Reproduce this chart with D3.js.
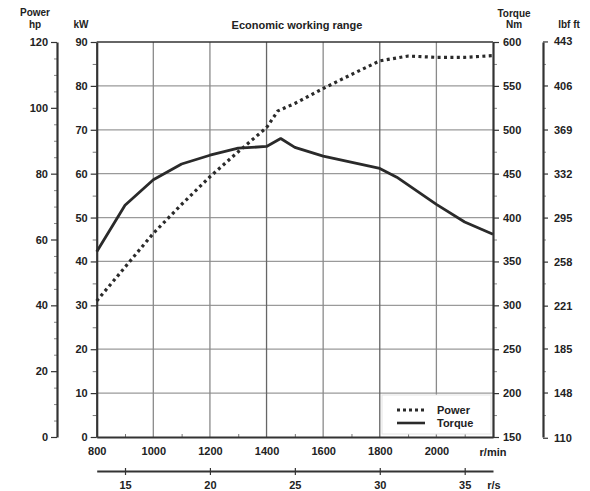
<!DOCTYPE html>
<html><head><meta charset="utf-8">
<script src="https://cdn.jsdelivr.net/npm/d3@7"></script>
<style>
body{margin:0;background:#fff;}
svg text{font-family:"Liberation Sans",Arial,sans-serif;font-weight:bold;fill:#222;}
</style></head>
<body><svg id="c" width="590" height="491"></svg>
<script>
// ---- data ----
const powerRpm = [800, 900, 1000, 1100, 1200, 1300, 1400, 1440, 1500, 1600, 1700, 1800, 1900, 2000, 2100, 2200];
const powerKw  = [31, 38.7, 46.4, 53, 59.3, 65, 70.5, 74.3, 76, 79.4, 82.6, 85.7, 86.8, 86.5, 86.5, 86.9];
const torqueRpm = [800, 900, 1000, 1100, 1200, 1300, 1400, 1450, 1500, 1600, 1800, 1860, 2000, 2100, 2200];
const torqueNm  = [361, 414, 443, 461, 471, 479, 481, 490, 480, 470, 456, 446, 415, 395, 381];
const rpmTicks = [800, 1000, 1200, 1400, 1600, 1800, 2000];
const rpsTicks = [15, 20, 25, 30, 35];
const kwTicks = [0, 10, 20, 30, 40, 50, 60, 70, 80, 90];
const hpTicks = [0, 20, 40, 60, 80, 100, 120];
const nmTicks = [150, 200, 250, 300, 350, 400, 450, 500, 550, 600];
const lbfTicks = [110, 148, 185, 221, 258, 295, 332, 369, 406, 443];

const svg = d3.select("#c");
const L = 96.7, R = 493, T = 42, B = 437;
const x = d3.scaleLinear().domain([800, 2200]).range([L, R]);
const xs = d3.scaleLinear().domain([800/60, 2200/60]).range([L, R]);
const yKw = d3.scaleLinear().domain([0, 90]).range([B, T]);
const yHp = d3.scaleLinear().domain([0, 120]).range([B, T]);
const yNm = d3.scaleLinear().domain([150, 600]).range([B, T]);
const yLbf = d3.scaleLinear().domain([150*0.73756, 600*0.73756]).range([B, T]);
const fmt = d3.format("d");

// grid
const g = svg.append("g");
g.selectAll(".hg").data(kwTicks.filter(d => d > 0 && d < 90)).join("line")
  .attr("x1", L).attr("x2", R).attr("y1", d => yKw(d)).attr("y2", d => yKw(d))
  .attr("stroke", "#9a9a9a").attr("stroke-width", 1.2);
g.selectAll(".vg").data(rpmTicks.filter(d => d > 800)).join("line")
  .attr("x1", d => x(d)).attr("x2", d => x(d)).attr("y1", T).attr("y2", B)
  .attr("stroke", d => (d === 1400 || d === 1800) ? "#666" : "#8a8a8a").attr("stroke-width", 1.3);
// top frame
svg.append("line").attr("x1", L).attr("x2", R).attr("y1", T).attr("y2", T).attr("stroke", "#333").attr("stroke-width", 1.5);

function styleAxis(sel, w) {
  sel.selectAll("path.domain").attr("stroke", "#333").attr("stroke-width", w || 2);
  sel.selectAll(".tick line").attr("stroke", "#333").attr("stroke-width", 1.2);
  sel.selectAll(".tick text").attr("font-size", 11).style("font-family", "Liberation Sans, Arial, sans-serif").attr("font-weight", "bold").attr("fill", "#222");
}

// kW axis
const aKwMinor = svg.append("g").attr("transform", `translate(${L},0)`)
  .call(d3.axisLeft(yKw).tickValues(d3.range(5, 90, 10)).tickSize(4).tickFormat("").tickSizeOuter(0));
aKwMinor.select("path.domain").remove();
aKwMinor.selectAll(".tick line").attr("stroke", "#777");
const aKw = svg.append("g").attr("transform", `translate(${L},0)`)
  .call(d3.axisLeft(yKw).tickValues(kwTicks).tickSize(6).tickPadding(3).tickSizeOuter(0).tickFormat(fmt));
styleAxis(aKw, 2.2);

// hp axis
const HX = 57;
const aHpMinor = svg.append("g").attr("transform", `translate(${HX},0)`)
  .call(d3.axisLeft(yHp).tickValues(d3.range(5, 120, 5).filter(d => d % 20 !== 0)).tickSize(3).tickFormat("").tickSizeOuter(0));
aHpMinor.select("path.domain").remove();
aHpMinor.selectAll(".tick line").attr("stroke", "#888");
const aHp = svg.append("g").attr("transform", `translate(${HX},0)`)
  .call(d3.axisLeft(yHp).tickValues(hpTicks).tickSize(6).tickPadding(3).tickSizeOuter(0).tickFormat(fmt));
styleAxis(aHp, 2.2);

// Nm axis
const aNmMinor = svg.append("g").attr("transform", `translate(${R},0)`)
  .call(d3.axisRight(yNm).tickValues(d3.range(175, 600, 50)).tickSize(4).tickFormat("").tickSizeOuter(0));
aNmMinor.select("path.domain").remove();
aNmMinor.selectAll(".tick line").attr("stroke", "#888");
const aNm = svg.append("g").attr("transform", `translate(${R},0)`)
  .call(d3.axisRight(yNm).tickValues(nmTicks).tickSize(6).tickPadding(4).tickSizeOuter(0).tickFormat(fmt));
styleAxis(aNm, 2.2);

// lbf ft axis
const LX = 543;
const aLbfMinor = svg.append("g").attr("transform", `translate(${LX},0)`)
  .call(d3.axisRight(yNm).tickValues(d3.range(175, 600, 50)).tickSize(3).tickFormat("").tickSizeOuter(0));
aLbfMinor.select("path.domain").remove();
aLbfMinor.selectAll(".tick line").attr("stroke", "#888");
const aLbf = svg.append("g").attr("transform", `translate(${LX},0)`)
  .call(d3.axisRight(yLbf).tickValues(lbfTicks).tickSize(5).tickPadding(6).tickSizeOuter(0).tickFormat(fmt));
styleAxis(aLbf, 2.2);

// x axis r/min
const aXMinor = svg.append("g").attr("transform", `translate(0,${B})`)
  .call(d3.axisTop(x).tickValues(d3.range(900, 2200, 200)).tickSize(3).tickFormat("").tickSizeOuter(0));
aXMinor.select("path.domain").remove();
aXMinor.selectAll(".tick line").attr("stroke", "#777");
const aX = svg.append("g").attr("transform", `translate(0,${B})`)
  .call(d3.axisBottom(x).tickValues(rpmTicks).tickSize(0).tickPadding(10).tickSizeOuter(0).tickFormat(fmt));
styleAxis(aX, 2.2);
svg.append("text").attr("x", x(2200)).attr("y", 456).attr("text-anchor", "middle").attr("font-size", 11).text("r/min");

// r/s axis
const RS = 471;
const aS = svg.append("g").attr("transform", `translate(0,${RS})`)
  .call(d3.axisBottom(xs).tickValues(rpsTicks).tickSize(4).tickPadding(6).tickSizeOuter(0).tickFormat(fmt));
styleAxis(aS, 2);
aS.selectAll(".tick line").attr("y1", -3);
svg.append("text").attr("x", 494).attr("y", 489).attr("text-anchor", "middle").attr("font-size", 11).text("r/s");

// curves
const lp = d3.line().x((d, i) => x(powerRpm[i])).y(d => yKw(d));
svg.append("path").attr("d", lp(powerKw)).attr("fill", "none").attr("stroke", "#2a2a2a")
  .attr("stroke-width", 3.2).attr("stroke-dasharray", "3,3.4");
const lt = d3.line().x((d, i) => x(torqueRpm[i])).y(d => yNm(d));
svg.append("path").attr("d", lt(torqueNm)).attr("fill", "none").attr("stroke", "#2a2a2a")
  .attr("stroke-width", 2.8).attr("stroke-linejoin", "round");

// legend
const lg = svg.append("g");
lg.append("rect").attr("x", 382).attr("y", 395).attr("width", 109).attr("height", 39)
  .attr("fill", "#fff").attr("stroke", "#e4e4e4").attr("stroke-width", 1);
lg.append("line").attr("x1", 397).attr("x2", 424).attr("y1", 410).attr("y2", 410)
  .attr("stroke", "#2a2a2a").attr("stroke-width", 3).attr("stroke-dasharray", "3,3");
lg.append("line").attr("x1", 397).attr("x2", 425).attr("y1", 423).attr("y2", 423)
  .attr("stroke", "#2a2a2a").attr("stroke-width", 2.6);
lg.append("text").attr("x", 437).attr("y", 414).attr("font-size", 11).text("Power");
lg.append("text").attr("x", 437).attr("y", 427).attr("font-size", 11).text("Torque");

// titles
svg.append("text").attr("x", 297).attr("y", 29).attr("text-anchor", "middle").attr("font-size", 11).text("Economic working range");
svg.append("text").attr("x", 35).attr("y", 16).attr("text-anchor", "middle").attr("font-size", 10).text("Power");
svg.append("text").attr("x", 35).attr("y", 28).attr("text-anchor", "middle").attr("font-size", 10).text("hp");
svg.append("text").attr("x", 81).attr("y", 28).attr("text-anchor", "middle").attr("font-size", 10).text("kW");
svg.append("text").attr("x", 514).attr("y", 17).attr("text-anchor", "middle").attr("font-size", 10).text("Torque");
svg.append("text").attr("x", 514).attr("y", 28).attr("text-anchor", "middle").attr("font-size", 10).text("Nm");
svg.append("text").attr("x", 569).attr("y", 28).attr("text-anchor", "middle").attr("font-size", 10).text("lbf ft");
</script></body></html>
